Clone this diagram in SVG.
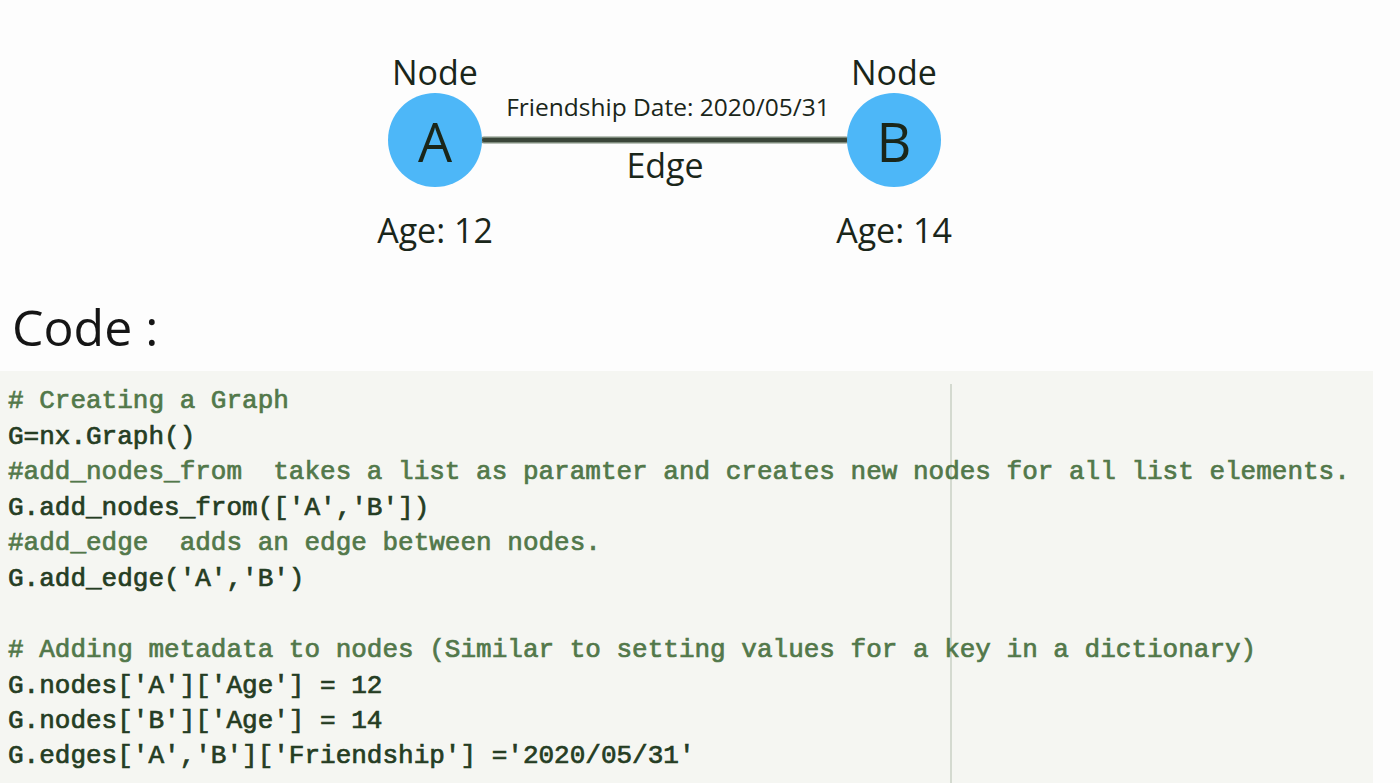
<svg xmlns="http://www.w3.org/2000/svg" width="1400" height="783" viewBox="0 0 1400 783">
<style>
.lbl{font-family:"Open Sans","Noto Sans",sans-serif;fill:#1a261a;text-anchor:middle}
.code{font-family:"Liberation Mono","Courier New",monospace;font-size:26px;white-space:pre;stroke-width:0.7}
.cm{fill:#52784a;stroke:#52784a}
.cd{fill:#253d23;stroke:#253d23}
.node{fill:#4db7f8}
</style>
<rect x="0" y="0" width="1400" height="783" fill="#fdfdfd"/>
<g id="connectors">
<line x1="484" y1="140" x2="846" y2="140" stroke="#7d8a7b" stroke-width="7" stroke-linecap="round"/>
<line x1="484" y1="140" x2="846" y2="140" stroke="#3b4639" stroke-width="4" stroke-linecap="round"/>
<text class="lbl" x="668" y="116" font-size="24.5">Friendship Date: 2020/05/31</text>
<text class="lbl" x="665" y="178" font-size="34">Edge</text>
</g>
<g id="nodeA">
<text class="lbl" x="435" y="85" font-size="34">Node</text>
<circle class="node" cx="435" cy="140" r="47"/>
<text class="lbl" x="435" y="162" font-size="54">A</text>
<text class="lbl" x="435" y="243" font-size="34">Age: 12</text>
</g>
<g id="nodeB">
<text class="lbl" x="894" y="85" font-size="34">Node</text>
<circle class="node" cx="894" cy="140" r="47"/>
<text class="lbl" x="894" y="162" font-size="54">B</text>
<text class="lbl" x="894" y="243" font-size="34">Age: 14</text>
</g>
<text x="12" y="346" font-family="Open Sans, Noto Sans, sans-serif" font-size="50" fill="#151515">Code :</text>
<g id="code">
<rect x="0" y="371" width="1373" height="412" fill="#f5f6f2"/>
<line x1="951" y1="384" x2="951" y2="783" stroke="#c8d0c4" stroke-width="1.5"/>
<text class="code cm" x="8" y="408"># Creating a Graph</text>
<text class="code cd" x="8" y="444">G=nx.Graph()</text>
<text class="code cm" x="8" y="479">#add_nodes_from  takes a list as paramter and creates new nodes for all list elements.</text>
<text class="code cd" x="8" y="515">G.add_nodes_from(['A','B'])</text>
<text class="code cm" x="8" y="550">#add_edge  adds an edge between nodes.</text>
<text class="code cd" x="8" y="586">G.add_edge('A','B')</text>
<text class="code cm" x="8" y="657"># Adding metadata to nodes (Similar to setting values for a key in a dictionary)</text>
<text class="code cd" x="8" y="693">G.nodes['A']['Age'] = 12</text>
<text class="code cd" x="8" y="728">G.nodes['B']['Age'] = 14</text>
<text class="code cd" x="8" y="763">G.edges['A','B']['Friendship'] ='2020/05/31'</text>
</g>
</svg>
